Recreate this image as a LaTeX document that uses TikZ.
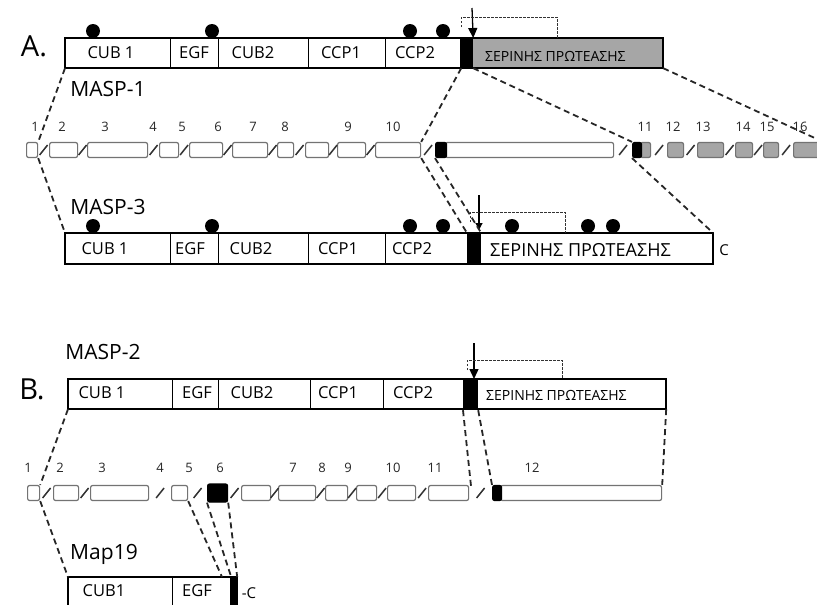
\documentclass[tikz,border=0pt]{standalone}
\usepackage{fontspec}
\setmainfont{Open Sans}
\usetikzlibrary{arrows.meta,calc}
\newcommand\mkdom[6]{\node[dom,#6,minimum width={#3pt-#2pt},minimum height={#5pt-#4pt}] (#1) at (#2,#4) {};}
\newcommand\mkexon[5]{\node[#5,minimum width={#3pt-#2pt},anchor=west] (#1) at (#2,#4) {};}
\newcommand\mkslash[2]{\draw[slashst] ($(#1.east)!.5!(#2.west)+(-4,5)$) -- +(8,-10);}
\begin{document}
\begin{tikzpicture}[x=1pt,y=-1pt,
  dom/.style={draw=black,line width=1.2pt,inner sep=0pt,anchor=north west,fill=white},
  outerbox/.style={draw=black,line width=2.2pt},
  dlbl/.style={font=\fontsize{16.5}{16.5}\selectfont,inner sep=0pt},
  grk/.style={inner sep=0pt,anchor=west},
  biglbl/.style={font=\fontsize{29}{29}\selectfont,inner sep=0pt},
  masplbl/.style={font=\fontsize{21}{21}\selectfont,inner sep=0pt},
  numlbl/.style={font=\fontsize{13}{13}\selectfont,inner sep=0pt,text=black!85},
  exon/.style={draw=black!55,line width=1.2pt,rounded corners=2pt,fill=white,minimum height=15pt,inner sep=0pt},
  gexon/.style={exon,fill=black!35},
  bexon/.style={exon,fill=black,draw=black},
  slashst/.style={line width=1.5pt,draw=black!80},
  conn/.style={line width=1.8pt,dash pattern=on 6pt off 4pt,draw=black!85},
  glyc/.style={circle,fill=black,inner sep=0pt,minimum size=14pt},
  arr/.style={line width=1.3pt,-{Triangle[width=9pt,length=10pt]}},
  brk/.style={line width=1pt,dash pattern=on 2.5pt off 1.5pt,draw=black!80}]
\useasboundingbox (0,0) rectangle (817,605);
\clip (0,0) rectangle (817,605);

% ---------------- A. MASP-1 ----------------
\node[biglbl] (lA) at (34,46) {A.};
\node[masplbl] (n1) at (108,89) {MASP-1};
\mkdom{aCUB}{65}{170}{38}{67}{}
\mkdom{aEGF}{170}{218}{38}{67}{}
\mkdom{aCUBb}{218}{308}{38}{67}{}
\mkdom{aCCPa}{308}{385}{38}{67}{}
\mkdom{aCCPb}{385}{460}{38}{67}{}
\mkdom{aSer}{472}{662}{38}{67}{fill=black!35}
\mkdom{aBlk}{460}{472}{38}{67}{fill=black}
\draw[outerbox] (aCUB.north west) rectangle (aSer.south east);
\node[dlbl] (taCUB) at (111,53) {CUB 1};
\node[dlbl] (taEGF) at (194,53) {EGF};
\node[dlbl] (taCUBb) at (253,53) {CUB2};
\node[dlbl] (taCCPa) at (341,53) {CCP1};
\node[dlbl] (taCCPb) at (415,53) {CCP2};
\node[grk,font=\fontsize{14}{14}\selectfont] (taSer) at (485,56) {ΣΕΡΙΝΗΣ ΠΡΩΤΕΑΣΗΣ};
\node[glyc] (ga1) at (93,31) {};
\node[glyc] (ga2) at (212,31) {};
\node[glyc] (ga3) at (410,31) {};
\node[glyc] (ga4) at (443,31) {};
\coordinate (aArrS) at (472,8);
\draw[arr] (aArrS) -- (aBlk.north east);
\coordinate (aBrA) at (461,27);
\coordinate (aBrE) at (557,38);
\draw[brk] (aBrA) -- ++(0,-10) -| (aBrE);

% ---------------- gene row 1 ----------------
\mkexon{e1}{26}{37}{150}{exon}
\mkexon{e2}{49}{77}{150}{exon}
\mkexon{e3}{87}{147}{150}{exon}
\mkexon{e4}{159}{178}{150}{exon}
\mkexon{e5}{189}{222}{150}{exon}
\mkexon{e6}{232}{267}{150}{exon}
\mkexon{e7}{277}{293}{150}{exon}
\mkexon{e8}{305}{328}{150}{exon}
\mkexon{e9}{337}{365}{150}{exon}
\mkexon{e10}{375}{420}{150}{exon}
\mkexon{eL}{445}{613}{150}{exon}
\mkexon{eb}{435}{446}{150}{bexon}
\mkexon{e11}{640}{650}{150}{gexon}
\mkexon{e11b}{632}{641}{150}{bexon}
\mkexon{e12}{667}{683}{150}{gexon}
\mkexon{e13}{697}{723}{150}{gexon}
\mkexon{e14}{735}{752}{150}{gexon}
\mkexon{e15}{763}{778}{150}{gexon}
\mkexon{e16}{793}{822}{150}{gexon}
\mkslash{e1}{e2}\mkslash{e2}{e3}\mkslash{e3}{e4}\mkslash{e4}{e5}\mkslash{e5}{e6}
\mkslash{e6}{e7}\mkslash{e7}{e8}\mkslash{e8}{e9}\mkslash{e9}{e10}\mkslash{e10}{eb}
\mkslash{eL}{e11b}\mkslash{e11}{e12}\mkslash{e12}{e13}\mkslash{e13}{e14}\mkslash{e14}{e15}\mkslash{e15}{e16}
\foreach \t/\x in {1/35,2/62,3/105,4/153,5/182,6/218,7/253,8/285,9/348,10/393,11/645,12/673,13/703,14/743,15/767,16/800}
  \node[numlbl] (r1n\t) at (\x,127) {\t};

% ---------------- MASP-3 ----------------
\node[masplbl] (n3) at (108,207) {MASP-3};
\mkdom{bCUB}{65}{170}{233}{263}{}
\mkdom{bEGF}{170}{218}{233}{263}{}
\mkdom{bCUBb}{218}{308}{233}{263}{}
\mkdom{bCCPa}{308}{385}{233}{263}{}
\mkdom{bCCPb}{385}{467}{233}{263}{}
\mkdom{bSer}{480}{712}{233}{263}{}
\mkdom{bBlk}{467}{480}{233}{264}{fill=black}
\draw[outerbox] (bCUB.north west) rectangle (bSer.south east);
\node[dlbl] (tbCUB) at (105,249) {CUB 1};
\node[dlbl] (tbEGF) at (190,249) {EGF};
\node[dlbl] (tbCUBb) at (251,249) {CUB2};
\node[dlbl] (tbCCPa) at (338,249) {CCP1};
\node[dlbl] (tbCCPb) at (412,249) {CCP2};
\node[grk,font=\fontsize{18}{18}\selectfont] (tbSer) at (490,250) {ΣΕΡΙΝΗΣ ΠΡΩΤΕΑΣΗΣ};
\node[font=\fontsize{15}{15}\selectfont,inner sep=0pt] (tbC) at (724,250) {C};
\node[glyc] (gb1) at (93,226) {};
\node[glyc] (gb2) at (212,226) {};
\node[glyc] (gb3) at (410,226) {};
\node[glyc] (gb4) at (443,226) {};
\node[glyc] (gb5) at (512,226) {};
\node[glyc] (gb6) at (588,226) {};
\node[glyc] (gb7) at (613,226) {};
\coordinate (bArrS) at (479,195);
\coordinate (bArrE) at (479,230);
\draw[line width=1.1pt,-{Triangle[width=7pt,length=7pt]}] (bArrS) -- (bArrE);
\coordinate (bBrA) at (470,222);
\coordinate (bBrE) at (565,233);
\draw[brk] (bBrA) -- ++(0,-10) -| (bBrE);

% connectors A
\draw[conn] (aCUB.south west) -- (e1.north east);
\draw[conn] (aCCPb.south east) -- (e10.north east);
\draw[conn] (aBlk.south east) -- (e11b.north west);
\draw[conn] (aSer.south east) -- (e16.north east);
\draw[conn] (e1.south east) -- (bCUB.north west);
\draw[conn] (e10.south east) -- (bBlk.north west);
\draw[conn] (eb.south west) -- (bBlk.north east);
\draw[conn] (e11b.south west) -- (bSer.north east);

% ---------------- B. MASP-2 ----------------
\node[biglbl] (lB) at (32,389) {B.};
\node[masplbl] (n2) at (103,352) {MASP-2};
\mkdom{cCUB}{68}{172}{379}{408}{}
\mkdom{cEGF}{172}{218}{379}{408}{}
\mkdom{cCUBb}{218}{310}{379}{408}{}
\mkdom{cCCPa}{310}{383}{379}{408}{}
\mkdom{cCCPb}{383}{463}{379}{408}{}
\mkdom{cSer}{477}{665}{379}{408}{}
\mkdom{cBlk}{463}{477}{379}{409}{fill=black}
\draw[outerbox] (cCUB.north west) rectangle (cSer.south east);
\node[dlbl] (tcCUB) at (102,393) {CUB 1};
\node[dlbl] (tcEGF) at (197,393) {EGF};
\node[dlbl] (tcCUBb) at (252,393) {CUB2};
\node[dlbl] (tcCCPa) at (338,393) {CCP1};
\node[dlbl] (tcCCPb) at (413,393) {CCP2};
\node[grk,font=\fontsize{14}{14}\selectfont] (tcSer) at (486,395) {ΣΕΡΙΝΗΣ ΠΡΩΤΕΑΣΗΣ};
\coordinate (cArrS) at (474,343);
\coordinate (cArrE) at (474,379);
\draw[arr] (cArrS) -- (cArrE);
\coordinate (cBrA) at (467,370);
\coordinate (cBrE) at (562,379);
\draw[brk] (cBrA) -- ++(0,-10) -| (cBrE);

% ---------------- gene row 2 ----------------
\mkexon{f1}{27}{39}{493}{exon}
\mkexon{f2}{53}{78}{493}{exon}
\mkexon{f3}{90}{148}{493}{exon}
\mkexon{f5}{171}{187}{493}{exon}
\mkexon{f6}{207}{227}{493}{bexon,minimum height=18pt}
\mkexon{f7}{241}{270}{493}{exon}
\mkexon{f8}{278}{315}{493}{exon}
\mkexon{f9}{325}{347}{493}{exon}
\mkexon{f10}{356}{376}{493}{exon}
\mkexon{f11}{387}{415}{493}{exon}
\mkexon{f12}{428}{468}{493}{exon}
\mkexon{fL}{500}{661}{493}{exon}
\mkexon{fb}{492}{501}{493}{bexon}
\mkslash{f1}{f2}\mkslash{f2}{f3}\mkslash{f3}{f5}\mkslash{f5}{f6}\mkslash{f6}{f7}
\mkslash{f7}{f8}\mkslash{f8}{f9}\mkslash{f9}{f10}\mkslash{f10}{f11}\mkslash{f11}{f12}\mkslash{f12}{fb}
\foreach \t/\x in {1/28,2/60,3/102,4/160,5/189,6/220,7/293,8/322,9/348,10/393,11/435,12/532}
  \node[numlbl] (r2n\t) at (\x,468) {\t};

% ---------------- Map19 ----------------
\node[masplbl] (n19) at (104,554) {Map19};
\mkdom{dCUB}{68}{172}{577}{612}{}
\mkdom{dEGF}{172}{230}{577}{612}{}
\mkdom{dBlk}{230}{236}{577}{612}{fill=black}
\draw[outerbox] (dCUB.north west) rectangle (dBlk.south east);
\node[dlbl] (tdCUB) at (104,591) {CUB1};
\node[dlbl] (tdEGF) at (197,591) {EGF};
\node[font=\fontsize{15}{15}\selectfont,inner sep=0pt] (tdC) at (249,593) {-C};

% connectors B
\coordinate (fgap) at (471,486);
\coordinate (dq1) at (222,577);
\draw[conn] (cCUB.south west) -- (f1.north east);
\draw[conn] (cBlk.south west) -- (fgap);
\draw[conn] (cBlk.south east) -- (fb.north west);
\draw[conn] (cSer.south east) -- (fL.north east);
\draw[conn] (f1.south east) -- (dCUB.north west);
\draw[conn] (f5.south east) -- (dq1);
\draw[conn] (f6.south west) -- (dEGF.north east);
\draw[conn] (f6.south east) -- (dBlk.north east);
\end{tikzpicture}
\end{document}
